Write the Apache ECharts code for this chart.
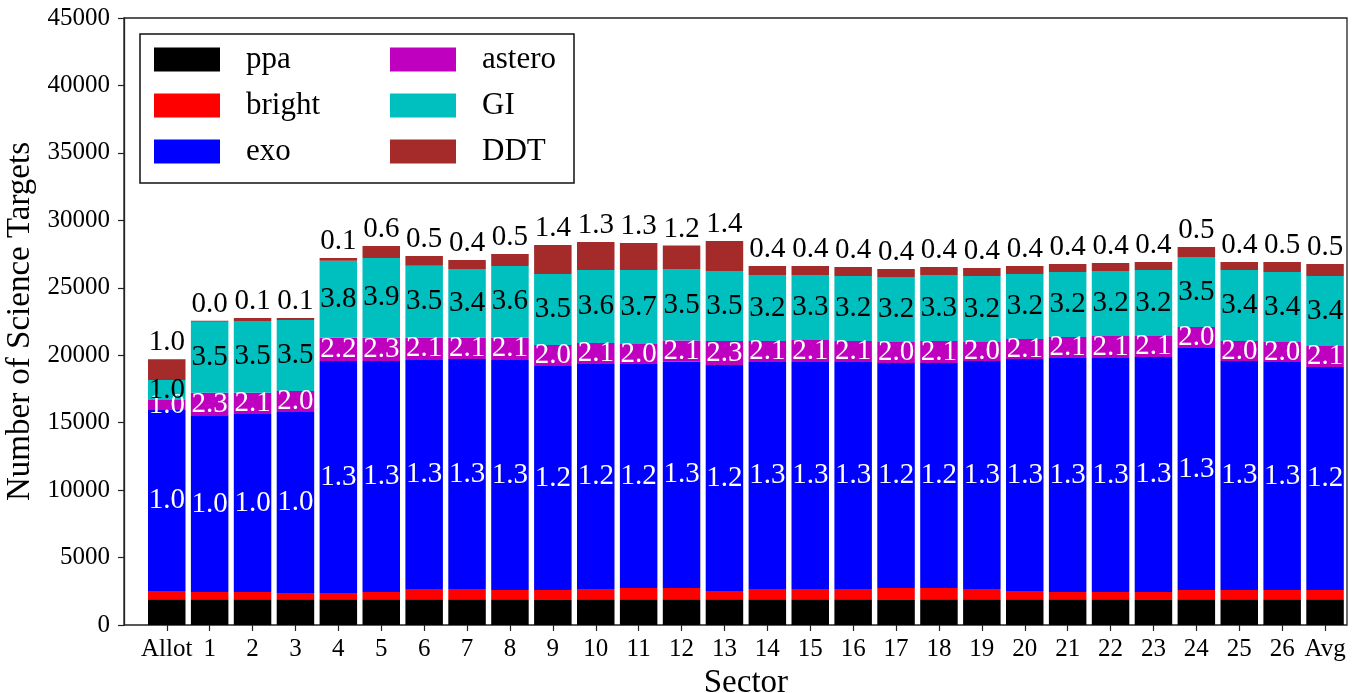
<!DOCTYPE html>
<html>
	<head>
		<meta charset="UTF-8">
		<title>Science targets per sector</title>
		<script src="https://cdn.jsdelivr.net/npm/echarts@6/dist/echarts.min.js"></script>
		<style>
			html, body { margin: 0; padding: 0; background: #fff; }
		</style>
	</head>
	<body>
		<div id="main" style="width: 1357px;height:693px;"></div>
		<script>
			// sector names on the x axis
			var categories = ['Allot', '1', '2', '3', '4', '5', '6', '7', '8', '9', '10', '11', '12', '13',
				'14', '15', '16', '17', '18', '19', '20', '21', '22', '23', '24', '25', '26', 'Avg'];

			// number of targets in each group (stacked)
			var ppa = [1900, 1900, 1900, 1900, 1900, 1900, 1900, 1900, 1900, 1850, 1900, 1900, 1900, 1900,
				1900, 1900, 1900, 1850, 1900, 1900, 1900, 1900, 1900, 1850, 1900, 1900, 1900, 1900];
			var bright = [620, 550, 550, 470, 470, 550, 770, 770, 700, 750, 770, 840, 840, 620,
				770, 770, 770, 890, 840, 770, 620, 550, 550, 600, 700, 700, 700, 700];
			var exo = [13420, 13040, 13190, 13420, 17200, 17120, 16980, 17050, 17050, 16600, 16680, 16610, 16800, 16760,
				16830, 16830, 16830, 16690, 16690, 16900, 17200, 17350, 17350, 17420, 17940, 16970, 16900, 16530];
			var astero = [740, 1730, 1580, 1560, 1730, 1730, 1650, 1580, 1650, 1560, 1560, 1490, 1560, 1780,
				1560, 1630, 1560, 1550, 1630, 1410, 1480, 1550, 1630, 1560, 1550, 1490, 1480, 1560];
			var gi = [1480, 5270, 5320, 5260, 5710, 5910, 5340, 5090, 5320, 5260, 5410, 5480, 5260, 5190,
				4890, 4820, 4820, 4820, 4890, 4900, 4820, 4820, 4820, 4890, 5190, 5260, 5190, 5190];
			var ddt = [1540, 70, 220, 150, 200, 890, 720, 670, 890, 2150, 2070, 2000, 1780, 2220,
				670, 670, 660, 590, 590, 590, 600, 600, 590, 590, 750, 590, 740, 890];

			// ratio to the allotment, printed on the bars
			var exoRatio = ['1.0', '1.0', '1.0', '1.0', '1.3', '1.3', '1.3', '1.3', '1.3', '1.2', '1.2', '1.2', '1.3', '1.2',
				'1.3', '1.3', '1.3', '1.2', '1.2', '1.3', '1.3', '1.3', '1.3', '1.3', '1.3', '1.3', '1.3', '1.2'];
			var asteroRatio = ['1.0', '2.3', '2.1', '2.0', '2.2', '2.3', '2.1', '2.1', '2.1', '2.0', '2.1', '2.0', '2.1', '2.3',
				'2.1', '2.1', '2.1', '2.0', '2.1', '2.0', '2.1', '2.1', '2.1', '2.1', '2.0', '2.0', '2.0', '2.1'];
			var giRatio = ['1.0', '3.5', '3.5', '3.5', '3.8', '3.9', '3.5', '3.4', '3.6', '3.5', '3.6', '3.7', '3.5', '3.5',
				'3.2', '3.3', '3.2', '3.2', '3.3', '3.2', '3.2', '3.2', '3.2', '3.2', '3.5', '3.4', '3.4', '3.4'];
			var ddtRatio = ['1.0', '0.0', '0.1', '0.1', '0.1', '0.6', '0.5', '0.4', '0.5', '1.4', '1.3', '1.3', '1.2', '1.4',
				'0.4', '0.4', '0.4', '0.4', '0.4', '0.4', '0.4', '0.4', '0.4', '0.4', '0.5', '0.4', '0.5', '0.5'];

			var yMin = 0, yMax = 45000, yStep = 5000;

			var FONT = '"Liberation Serif", "DejaVu Serif", serif';

			function bars(name, values, color, ratios, labelPos, labelColor) {
				var s = {
					name: name,
					type: 'bar',
					stack: 'total',
					xAxisIndex: 0,
					yAxisIndex: 0,
					barWidth: 37.5,
					itemStyle: { color: color },
					data: values
				};
				if (ratios) {
					s.label = {
						show: true,
						position: labelPos,
						distance: 2,
						color: labelColor,
						fontFamily: FONT,
						fontSize: 29,
						formatter: function(p) { return ratios[p.dataIndex]; }
					};
				}
				return s;
			}

			var myChart = echarts.init(document.getElementById('main'));
			var option = {
				animation: false,
				backgroundColor: '#fff',
				textStyle: { fontFamily: FONT },
				grid: [
					// bars: the category bands sit inside the frame, with a wider margin on the left
					{ left: 145.3, right: 10.5, top: 18, bottom: 68, outerBoundsMode: 'none', containLabel: false },
					// frame and y axis
					{ left: 124, right: 10, top: 18, bottom: 68, outerBoundsMode: 'none', containLabel: false,
						show: true, borderColor: '#222', borderWidth: 1.3 }
				],
				legend: {
					orient: 'vertical',
					left: 140, top: 34,
					height: 145,
					padding: [10, 12, 16, 14],
					itemGap: 15,
					itemWidth: 66, itemHeight: 24,
					icon: 'rect',
					borderColor: '#111', borderWidth: 1.5,
					backgroundColor: '#fff',
					textStyle: { fontFamily: FONT, fontSize: 31, color: '#000', lineHeight: 31, padding: [0, 0, 0, 21] },
					data: [
						{ name: 'ppa', textStyle: { width: 129 } },
						{ name: 'bright', textStyle: { width: 129 } },
						{ name: 'exo', textStyle: { width: 129 } },
						{ name: 'astero', textStyle: { width: 80 } },
						{ name: 'GI', textStyle: { width: 80 } },
						{ name: 'DDT', textStyle: { width: 80 } }
					]
				},
				xAxis: [
					{
						type: 'category',
						gridIndex: 0,
						data: categories,
						name: 'Sector',
						nameLocation: 'middle',
						nameGap: 38,
						nameTextStyle: { fontFamily: FONT, fontSize: 33, color: '#000' },
						axisLine: { show: false },
						axisTick: { show: true, alignWithLabel: true, length: 6, lineStyle: { color: '#222', width: 1.2 } },
						axisLabel: { interval: 0, fontFamily: FONT, fontSize: 25, color: '#000', margin: 12 },
						splitLine: { show: false }
					},
					{
						type: 'value',
						gridIndex: 1,
						show: false
					}
				],
				yAxis: [
					{
						type: 'value',
						gridIndex: 0,
						min: yMin, max: yMax, interval: yStep,
						show: false
					},
					{
						type: 'value',
						gridIndex: 1,
						min: yMin, max: yMax, interval: yStep,
						name: 'Number of Science Targets',
						nameLocation: 'middle',
						nameGap: 74,
						nameTextStyle: { fontFamily: FONT, fontSize: 33, color: '#000' },
						axisLine: { show: true, onZero: false, lineStyle: { color: '#222', width: 1.3 } },
						axisTick: { show: true, length: 6, lineStyle: { color: '#222', width: 1.2 } },
						axisLabel: {
							fontFamily: FONT, fontSize: 25, color: '#000', margin: 14,
							formatter: function(v) { return String(v); }
						},
						splitLine: { show: false }
					}
				],
				series: [
					bars('ppa', ppa, '#000000'),
					bars('bright', bright, '#ff0000'),
					bars('exo', exo, '#0000ff', exoRatio, 'inside', '#fff'),
					bars('astero', astero, '#bf00bf', asteroRatio, 'inside', '#fff'),
					bars('GI', gi, '#00bfbf', giRatio, 'inside', '#000'),
					bars('DDT', ddt, '#a52a2a', ddtRatio, 'top', '#000')
				]
			};
			myChart.setOption(option);
		</script>
	</body>
</html>
